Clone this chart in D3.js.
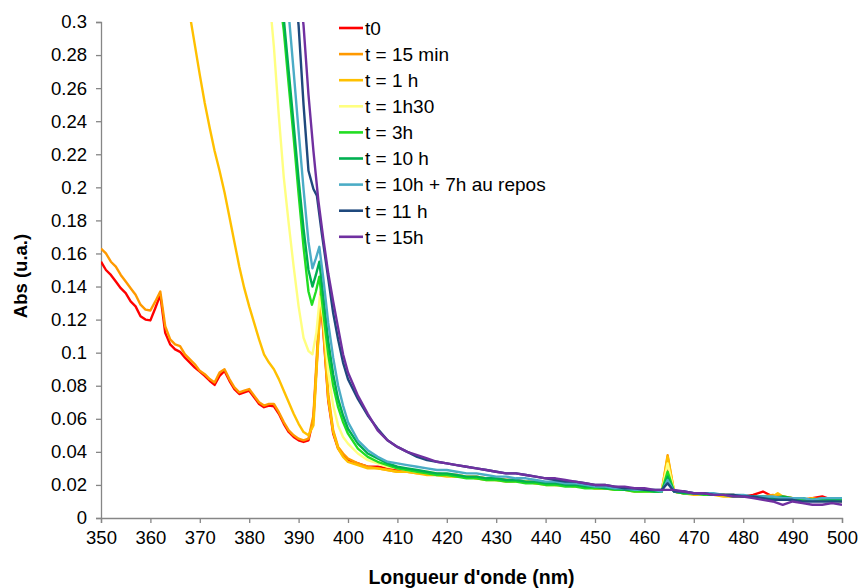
<!DOCTYPE html>
<html><head><meta charset="utf-8">
<script src="https://cdn.jsdelivr.net/npm/d3@7"></script>
<style>body{margin:0;background:#fff}svg{display:block}text{font-family:"Liberation Sans",Arial,sans-serif}</style>
</head><body><svg id="c" width="859" height="588"></svg>
<script>
const seriesNames = ["t0","t = 15 min","t = 1 h","t = 1h30","t = 3h","t = 10 h","t = 10h + 7h au repos","t = 11 h","t = 15h"];
const seriesColors = ["#FF0000","#FF9900","#FFC000","#FFFF80","#22DD22","#00B050","#4BACC6","#1F497D","#7030A0"];
const xTicks = [350,360,370,380,390,400,410,420,430,440,450,460,470,480,490,500];
const yTicks = [0,0.02,0.04,0.06,0.08,0.1,0.12,0.14,0.16,0.18,0.2,0.22,0.24,0.26,0.28,0.3];

const t0 = [[350,0.155],[351,0.150],[352,0.147],[353,0.143],[354,0.139],[355,0.136],[356,0.131],[357,0.128],[358,0.122],[359,0.120],[360,0.1195],[361,0.127],[362,0.135],[363,0.112],[364,0.105],[365,0.102],[366,0.1005],[367,0.097],[368,0.094],[369,0.091],[370,0.0885],[371,0.086],[372,0.083],[373,0.0805],[374,0.086],[375,0.089],[376,0.083],[377,0.078],[378,0.075],[379,0.076],[380,0.077],[381,0.073],[382,0.069],[383,0.067],[384,0.068],[385,0.0675],[386,0.063],[387,0.057],[388,0.052],[389,0.049],[390,0.047],[391,0.046],[392,0.047],[393,0.060],[394,0.110],[394.5,0.131],[395,0.113],[396,0.071],[397,0.051],[398,0.042],[399,0.038],[400,0.035],[402,0.033],[404,0.031],[406,0.031],[408,0.030],[410,0.029],[412,0.029],[414,0.028],[416,0.027],[418,0.027],[420,0.026],[422,0.026],[424,0.025],[426,0.025],[428,0.024],[430,0.024],[432,0.023],[434,0.023],[436,0.022],[438,0.022],[440,0.021],[442,0.021],[444,0.020],[446,0.020],[448,0.019],[450,0.019],[452,0.018],[454,0.018],[456,0.017],[458,0.017],[460,0.017],[462,0.016],[463.5,0.016],[464.7,0.030],[466,0.016],[468,0.015],[470,0.015],[472,0.015],[474,0.014],[476,0.014],[478,0.014],[480,0.013],[482,0.014],[484,0.016],[486,0.013],[488,0.012],[490,0.012],[492,0.011],[494,0.012],[496,0.013],[498,0.011],[500,0.012]];
const t15min = [[350,0.163],[351,0.160],[352,0.155],[353,0.152],[354,0.147],[355,0.143],[356,0.139],[357,0.135],[358,0.129],[359,0.126],[360,0.1255],[361,0.131],[362,0.137],[363,0.116],[364,0.108],[365,0.105],[366,0.104],[367,0.099],[368,0.096],[369,0.093],[370,0.089],[371,0.087],[372,0.084],[373,0.082],[374,0.088],[375,0.090],[376,0.084],[377,0.079],[378,0.076],[379,0.077],[380,0.078],[381,0.074],[382,0.070],[383,0.068],[384,0.069],[385,0.069],[386,0.064],[387,0.058],[388,0.053],[389,0.050],[390,0.048],[391,0.047],[392,0.048],[393,0.062],[394,0.115],[394.5,0.137],[395,0.118],[396,0.075],[397,0.053],[398,0.043],[399,0.039],[400,0.036],[402,0.033],[404,0.031],[406,0.030],[408,0.029],[410,0.028],[412,0.028],[414,0.027],[416,0.027],[418,0.026],[420,0.026],[422,0.025],[424,0.025],[426,0.024],[428,0.024],[430,0.023],[432,0.023],[434,0.022],[436,0.022],[438,0.021],[440,0.021],[442,0.020],[444,0.020],[446,0.019],[448,0.019],[450,0.018],[452,0.018],[454,0.018],[456,0.017],[458,0.017],[460,0.016],[462,0.016],[463.5,0.016],[464.7,0.038],[466,0.016],[468,0.015],[470,0.015],[472,0.014],[474,0.014],[476,0.014],[478,0.013],[480,0.013],[482,0.013],[484,0.013],[486,0.014],[488,0.013],[490,0.012],[492,0.011],[494,0.011],[496,0.012],[498,0.011],[500,0.011]];
const t1h = [[366,0.335],[367,0.318],[368,0.304],[369,0.286],[370,0.268],[371,0.251],[372,0.236],[373,0.222],[374,0.210],[375,0.197],[376,0.182],[377,0.167],[378,0.152],[379,0.139],[380,0.128],[381,0.118],[382,0.108],[383,0.099],[384,0.094],[385,0.090],[386,0.084],[387,0.077],[388,0.070],[389,0.063],[390,0.057],[391,0.052],[392,0.050],[393,0.056],[394,0.108],[394.5,0.133],[395,0.115],[396,0.072],[397,0.052],[398,0.042],[399,0.037],[400,0.034],[402,0.032],[404,0.030],[406,0.030],[408,0.029],[410,0.028],[412,0.028],[414,0.027],[416,0.026],[418,0.026],[420,0.025],[422,0.025],[424,0.025],[426,0.024],[428,0.023],[430,0.023],[432,0.022],[434,0.022],[436,0.022],[438,0.021],[440,0.020],[442,0.020],[444,0.020],[446,0.019],[448,0.019],[450,0.018],[452,0.018],[454,0.017],[456,0.017],[458,0.016],[460,0.016],[462,0.016],[463.5,0.016],[464.7,0.037],[466,0.016],[468,0.015],[470,0.014],[472,0.014],[474,0.014],[476,0.013],[478,0.013],[480,0.013],[482,0.013],[484,0.012],[486,0.013],[487,0.015],[488,0.013],[490,0.012],[492,0.011],[494,0.012],[496,0.011],[498,0.011],[500,0.010]];
const t1h30 = [[383,0.340],[384,0.318],[385,0.285],[386,0.243],[387,0.206],[388,0.178],[389,0.152],[390,0.128],[391,0.109],[392,0.101],[392.8,0.099],[393.6,0.112],[394.3,0.134],[395,0.121],[396,0.088],[397,0.068],[398,0.056],[399,0.049],[400,0.045],[402,0.039],[404,0.035],[406,0.033],[408,0.031],[410,0.030],[412,0.029],[414,0.028],[416,0.028],[418,0.027],[420,0.026],[422,0.026],[424,0.025],[426,0.025],[428,0.024],[430,0.023],[432,0.023],[434,0.022],[436,0.022],[438,0.022],[440,0.021],[442,0.021],[444,0.020],[446,0.019],[448,0.019],[450,0.019],[452,0.018],[454,0.018],[456,0.017],[458,0.017],[460,0.016],[462,0.016],[463.5,0.016],[464.7,0.033],[466,0.016],[468,0.015],[470,0.015],[472,0.014],[474,0.014],[476,0.014],[478,0.013],[480,0.013],[482,0.013],[484,0.012],[486,0.012],[488,0.012],[490,0.012],[492,0.011],[494,0.011],[496,0.011],[498,0.010],[500,0.011]];
const t3h = [[385,0.345],[386,0.318],[387,0.295],[388,0.262],[389,0.230],[390,0.196],[391,0.164],[392,0.137],[392.7,0.129],[393.5,0.137],[394.2,0.146],[395,0.124],[396,0.099],[397,0.080],[398,0.067],[399,0.058],[400,0.051],[402,0.042],[404,0.037],[406,0.034],[408,0.032],[410,0.030],[412,0.029],[414,0.028],[416,0.027],[418,0.026],[420,0.026],[422,0.025],[424,0.024],[426,0.024],[428,0.023],[430,0.023],[432,0.022],[434,0.022],[436,0.021],[438,0.021],[440,0.020],[442,0.020],[444,0.019],[446,0.019],[448,0.018],[450,0.018],[452,0.018],[454,0.017],[456,0.017],[458,0.016],[460,0.016],[462,0.016],[463.5,0.016],[464.7,0.028],[466,0.016],[468,0.015],[470,0.015],[472,0.014],[474,0.014],[476,0.014],[478,0.013],[480,0.013],[482,0.013],[484,0.013],[486,0.012],[488,0.012],[490,0.012],[492,0.011],[494,0.011],[496,0.011],[498,0.011],[500,0.011]];
const t10h = [[385,0.355],[386,0.328],[387,0.302],[388,0.270],[389,0.238],[390,0.205],[391,0.175],[392,0.150],[392.8,0.140],[393.5,0.147],[394.2,0.155],[395,0.134],[396,0.107],[397,0.087],[398,0.072],[399,0.062],[400,0.054],[402,0.045],[404,0.039],[406,0.036],[408,0.033],[410,0.031],[412,0.030],[414,0.029],[416,0.028],[418,0.027],[420,0.027],[422,0.026],[424,0.025],[426,0.025],[428,0.024],[430,0.024],[432,0.023],[434,0.023],[436,0.022],[438,0.022],[440,0.021],[442,0.021],[444,0.020],[446,0.020],[448,0.019],[450,0.019],[452,0.018],[454,0.018],[456,0.017],[458,0.017],[460,0.017],[462,0.016],[463.5,0.016],[464.7,0.025],[466,0.016],[468,0.015],[470,0.015],[472,0.015],[474,0.014],[476,0.014],[478,0.014],[480,0.013],[482,0.013],[484,0.013],[486,0.012],[488,0.013],[490,0.012],[492,0.012],[494,0.011],[496,0.012],[498,0.011],[500,0.012]];
const t10h7h = [[386,0.352],[387,0.327],[388,0.305],[389,0.270],[390,0.234],[391,0.199],[392,0.167],[392.8,0.151],[393.5,0.157],[394.2,0.164],[395,0.145],[396,0.118],[397,0.097],[398,0.080],[399,0.068],[400,0.058],[402,0.047],[404,0.041],[406,0.037],[408,0.034],[410,0.033],[412,0.032],[414,0.031],[416,0.030],[418,0.029],[420,0.029],[422,0.028],[424,0.027],[426,0.027],[428,0.026],[430,0.025],[432,0.025],[434,0.024],[436,0.024],[438,0.023],[440,0.022],[442,0.022],[444,0.021],[446,0.021],[448,0.020],[450,0.019],[452,0.019],[454,0.018],[456,0.018],[458,0.017],[460,0.017],[462,0.017],[463.5,0.016],[464.7,0.023],[466,0.016],[468,0.016],[470,0.015],[472,0.015],[474,0.015],[476,0.014],[478,0.014],[480,0.014],[482,0.013],[484,0.013],[486,0.013],[488,0.012],[490,0.012],[492,0.012],[494,0.011],[496,0.012],[498,0.012],[500,0.012]];
const t11h = [[388,0.355],[389,0.328],[390,0.298],[391,0.250],[392,0.210],[393,0.199],[393.7,0.195],[394.7,0.172],[396,0.145],[397,0.124],[398,0.108],[399,0.094],[400,0.084],[402,0.072],[404,0.062],[406,0.054],[408,0.047],[410,0.043],[412,0.040],[414,0.037],[416,0.035],[418,0.034],[420,0.033],[422,0.032],[424,0.031],[426,0.030],[428,0.029],[430,0.028],[432,0.027],[434,0.027],[436,0.026],[438,0.025],[440,0.024],[442,0.023],[444,0.022],[446,0.022],[448,0.021],[450,0.020],[452,0.020],[454,0.019],[456,0.018],[458,0.018],[460,0.017],[462,0.017],[463.5,0.017],[464.7,0.021],[466,0.016],[468,0.016],[470,0.015],[472,0.015],[474,0.014],[476,0.014],[478,0.014],[480,0.013],[482,0.013],[484,0.012],[486,0.011],[488,0.011],[490,0.011],[492,0.010],[494,0.010],[496,0.010],[498,0.010],[500,0.010]];
const t15h = [[389,0.352],[390,0.325],[391,0.298],[392,0.256],[393,0.222],[394,0.192],[395,0.169],[396,0.148],[397,0.131],[398,0.115],[399,0.099],[400,0.088],[401,0.081],[402,0.074],[404,0.063],[406,0.053],[408,0.047],[410,0.043],[412,0.040],[414,0.038],[416,0.036],[418,0.034],[420,0.033],[422,0.032],[424,0.031],[426,0.030],[428,0.029],[430,0.028],[432,0.027],[434,0.027],[436,0.026],[438,0.025],[440,0.024],[442,0.024],[444,0.023],[446,0.022],[448,0.021],[450,0.020],[452,0.020],[454,0.019],[456,0.019],[458,0.018],[460,0.018],[462,0.017],[464,0.017],[466,0.017],[468,0.016],[470,0.015],[472,0.015],[474,0.014],[476,0.014],[478,0.013],[480,0.013],[482,0.012],[484,0.011],[486,0.010],[488,0.008],[490,0.010],[492,0.009],[494,0.008],[496,0.008],[498,0.009],[500,0.008]];

const seriesData = [t0,t15min,t1h,t1h30,t3h,t10h,t10h7h,t11h,t15h];

const svg = d3.select("#c");
const m = {l:101,t:22,r:17,b:70};
const W = 859-m.l-m.r, H = 588-m.t-m.b;
const x = d3.scaleLinear().domain([350,500]).range([m.l,m.l+W]);
const y = d3.scaleLinear().domain([0,0.3]).range([m.t+H,m.t]);

svg.append("clipPath").attr("id","clip").append("rect").attr("x",m.l).attr("y",m.t).attr("width",W).attr("height",H);

const axisCol = "#868686";
const gx = svg.append("g").attr("transform",`translate(0,${m.t+H})`)
  .call(d3.axisBottom(x).tickValues(xTicks).tickSize(5).tickPadding(8).tickFormat(d3.format("d")));
const gy = svg.append("g").attr("transform",`translate(${m.l},0)`)
  .call(d3.axisLeft(y).tickValues(yTicks).tickSize(5).tickPadding(9).tickFormat(d=>String(+d.toFixed(2))));
[gx,gy].forEach(g=>{
  g.select(".domain").attr("stroke",axisCol).attr("stroke-width",1.3);
  g.selectAll(".tick line").attr("stroke",axisCol).attr("stroke-width",1.3);
  g.selectAll(".tick text").attr("fill","#000").style("font-size","18.5px").style("font-family","'Liberation Sans',Arial,sans-serif");
});

const line = d3.line().x(d=>x(d[0])).y(d=>y(d[1]));
const lg = svg.append("g").attr("clip-path","url(#clip)");
seriesData.forEach((s,i)=>{
  lg.append("path").datum(s).attr("d",line).attr("fill","none")
    .attr("stroke",seriesColors[i]).attr("stroke-width",2.4).attr("stroke-linejoin","round");
});

const leg = svg.append("g");
seriesNames.forEach((n,i)=>{
  const yy = 28 + i*26.1;
  leg.append("line").attr("x1",339).attr("x2",363).attr("y1",yy).attr("y2",yy).attr("stroke",seriesColors[i]).attr("stroke-width",2.6);
  leg.append("text").attr("x",365).attr("y",yy).attr("dy","0.36em").style("font-size","19px").text(n);
});

svg.append("text").attr("transform",`translate(27,${m.t+H/2+6}) rotate(-90)`).attr("text-anchor","middle")
  .style("font-size","18.5px").style("font-weight","bold").text("Abs (u.a.)");
svg.append("text").attr("x",m.l+W/2).attr("y",584).attr("text-anchor","middle")
  .style("font-size","19.5px").style("font-weight","bold").text("Longueur d'onde (nm)");
</script></body></html>
